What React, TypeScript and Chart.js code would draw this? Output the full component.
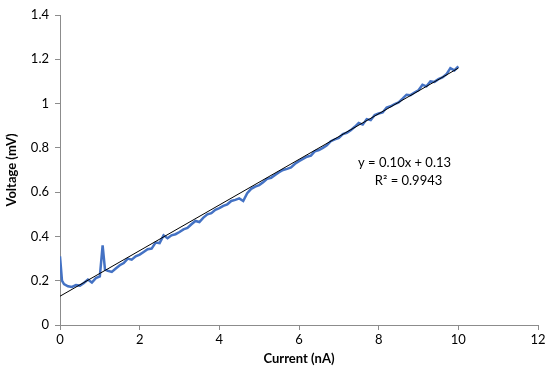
import React, { useEffect, useRef } from "react";
import { Chart, registerables } from "chart.js";

Chart.register(...registerables);

const currentNA = [
  0, 0.05, 0.1, 0.2, 0.3, 0.4, 0.5, 0.6, 0.7, 0.8, 0.9, 1.0, 1.07, 1.13, 1.2, 1.3, 1.4, 1.5, 1.6, 1.7, 1.8, 1.9,
  2.0, 2.1, 2.2, 2.3, 2.4, 2.5, 2.6, 2.7, 2.8, 2.9, 3.0, 3.1, 3.2, 3.3, 3.4, 3.5, 3.6, 3.7, 3.8, 3.9,
  4.0, 4.1, 4.2, 4.3, 4.4, 4.5, 4.6, 4.7, 4.8, 4.9, 5.0, 5.1, 5.2, 5.3, 5.4, 5.5, 5.6, 5.7, 5.8, 5.9,
  6.0, 6.1, 6.2, 6.3, 6.4, 6.5, 6.6, 6.7, 6.8, 6.9, 7.0, 7.1, 7.2, 7.3, 7.4, 7.5, 7.6, 7.7, 7.8, 7.9,
  8.0, 8.1, 8.2, 8.3, 8.4, 8.5, 8.6, 8.7, 8.8, 8.9, 9.0, 9.1, 9.2, 9.3, 9.4, 9.5, 9.6, 9.7, 9.8, 9.9, 10.0,
];

const voltageMV = [
  0.31, 0.2, 0.185, 0.175, 0.172, 0.18, 0.178, 0.19, 0.205, 0.192, 0.212, 0.22, 0.36, 0.25, 0.245, 0.24, 0.255, 0.27, 0.28, 0.3, 0.295, 0.31,
  0.318, 0.33, 0.342, 0.345, 0.372, 0.37, 0.405, 0.392, 0.405, 0.41, 0.42, 0.432, 0.438, 0.455, 0.47, 0.465, 0.485, 0.5, 0.505, 0.52,
  0.528, 0.538, 0.545, 0.56, 0.565, 0.572, 0.56, 0.595, 0.615, 0.625, 0.632, 0.645, 0.66, 0.665, 0.678, 0.69, 0.7, 0.705, 0.712, 0.728,
  0.74, 0.75, 0.76, 0.765, 0.785, 0.79, 0.8, 0.812, 0.83, 0.838, 0.845, 0.862, 0.868, 0.88, 0.895, 0.912, 0.905, 0.93, 0.925, 0.948,
  0.955, 0.96, 0.982, 0.988, 0.998, 1.005, 1.022, 1.04, 1.038, 1.05, 1.06, 1.085, 1.078, 1.1, 1.098, 1.11, 1.118, 1.132, 1.16, 1.15, 1.168,
];

const trendX = [0, 10];
const trendY = [0.13, 1.16];

const equationLines = ["y = 0.10x + 0.13", "R\u00B2 = 0.9943"];
const equationAt = { x: 8.65, y: 0.69 };

const xTitle = "Current (nA)";
const yTitle = "Voltage (mV)";

const FONT = "Lato, 'Open Sans', sans-serif";
const AXIS_GRAY = "#8c8c8c";

export default function App() {
  const ref = useRef<HTMLCanvasElement | null>(null);

  useEffect(() => {
    document.body.style.margin = "0";
    const canvas = ref.current;
    if (!canvas) return;

    const eqPlugin = {
      id: "eqText",
      afterDatasetsDraw(chart: any) {
        const { ctx, scales } = chart;
        const px = scales.x.getPixelForValue(equationAt.x);
        const py = scales.y.getPixelForValue(equationAt.y);
        ctx.save();
        ctx.fillStyle = "#000";
        ctx.font = `13px ${FONT}`;
        ctx.textAlign = "center";
        ctx.textBaseline = "middle";
        ctx.fillText(equationLines[0], px, py - 9);
        ctx.fillText(equationLines[1], px + 4, py + 9);
        ctx.restore();
      },
    };

    const chart = new Chart(canvas, {
      type: "scatter",
      data: {
        datasets: [
          {
            label: "data",
            data: currentNA.map((x, i) => ({ x, y: voltageMV[i] })),
            showLine: true,
            borderColor: "#4472C4",
            borderWidth: 2.5,
            pointRadius: 0,
            tension: 0,
            order: 2,
          },
          {
            label: "trend",
            data: trendX.map((x, i) => ({ x, y: trendY[i] })),
            showLine: true,
            borderColor: "#000",
            borderWidth: 1,
            pointRadius: 0,
            order: 1,
          },
        ],
      },
      plugins: [eqPlugin],
      options: {
        animation: false,
        responsive: false,
        devicePixelRatio: 1,
        layout: { padding: { top: 15, right: 12, left: 4, bottom: 8 } },
        plugins: { legend: { display: false }, tooltip: { enabled: false } },
        scales: {
          x: {
            type: "linear",
            min: 0,
            max: 12,
            ticks: { stepSize: 2, color: "#000", font: { family: FONT, size: 13 }, padding: 2 },
            grid: { drawOnChartArea: false, drawTicks: true, tickLength: 5, color: AXIS_GRAY },
            border: { color: AXIS_GRAY },
            title: {
              display: true,
              text: xTitle,
              color: "#000",
              font: { family: FONT, size: 13, weight: "bold" },
              padding: { top: 0, bottom: 0 },
            },
            afterFit(scale: any) {
              scale.height = 42;
            },
          },
          y: {
            type: "linear",
            min: 0,
            max: 1.4,
            ticks: {
              stepSize: 0.2,
              color: "#000",
              font: { family: FONT, size: 13 },
              padding: 6,
              callback: (v: any) => String(Math.round(Number(v) * 10) / 10),
            },
            grid: { drawOnChartArea: false, drawTicks: true, tickLength: 5, color: AXIS_GRAY },
            border: { color: AXIS_GRAY },
            title: {
              display: true,
              text: yTitle,
              color: "#000",
              font: { family: FONT, size: 13, weight: "bold" },
              padding: { top: 0, bottom: 4 },
            },
            afterFit(scale: any) {
              scale.width = 56;
            },
          },
        },
      },
    });
    return () => chart.destroy();
  }, []);

  return (
    <div style={{ width: 550, height: 375 }}>
      <canvas ref={ref} width={550} height={375} style={{ display: "block" }} />
    </div>
  );
}
